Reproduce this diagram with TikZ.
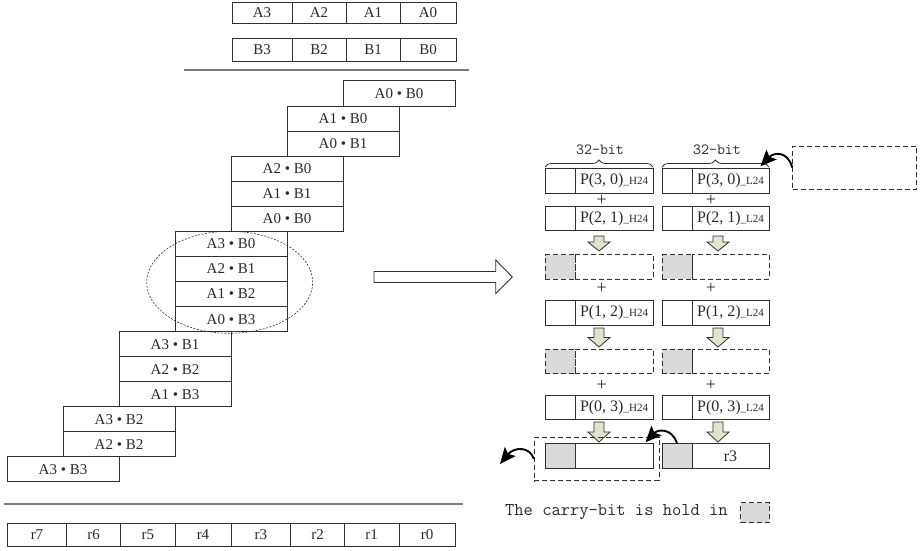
\documentclass[tikz,border=0pt]{standalone}
\usepackage{fontspec}
\setmainfont{Liberation Serif}
\usetikzlibrary{decorations.pathreplacing,arrows.meta}
\definecolor{lineC}{HTML}{303030}
\definecolor{sepC}{HTML}{7A7A7A}
\definecolor{carryC}{HTML}{D9D9D9}
\definecolor{arrC}{HTML}{E0E4CE}
\definecolor{txtC}{HTML}{2A2A2A}
\newcommand\lbl{\fontsize{15}{15}\selectfont}
\newcommand\plbl{\fontsize{16}{16}\selectfont}
\newcommand\subtag[1]{{\fontsize{11}{11}\selectfont\_#1}}
\newcommand\DownBlk[4]{%
  \draw[blockarr] ({#1-5},#2) -- ({#1+5},#2) -- ({#1+5},{#2+#3}) -- ({#1+11},{#2+#3}) -- (#1,{#2+#3+#4}) -- ({#1-11},{#2+#3}) -- ({#1-5},{#2+#3}) -- cycle;}
\begin{document}
\begin{tikzpicture}[x=1pt,y=-1pt,
  box/.style={draw=lineC,line width=1pt,inner sep=0pt,text=txtC,font=\lbl},
  prod/.style={box,minimum width=112pt,minimum height=25.06pt},
  rowA/.style={box,minimum height=20.6pt},
  rowB/.style={box,minimum height=23.4pt},
  rowR/.style={box,minimum height=22.7pt},
  cs/.style={box,minimum width=30pt,minimum height=24.5pt},
  cb/.style={box,minimum width=78pt,minimum height=24.5pt,font=\plbl},
  cbr/.style={box,minimum width=77pt,minimum height=24.5pt,font=\plbl},
  dsh/.style={dash pattern=on 5pt off 3pt},
  carry/.style={fill=carryC},
  sep/.style={draw=sepC,line width=1.6pt},
  blockarr/.style={draw=lineC,line width=0.8pt,fill=arrC,line join=miter},
  curv/.style={draw=black,line width=1.9pt,-{Stealth[length=16pt,width=14pt,inset=3pt]}},
  plus/.style={inner sep=0pt,text=txtC,font=\fontsize{18}{18}\selectfont},
  bitlbl/.style={inner sep=0pt,text=txtC,font=\ttfamily\fontsize{15.5}{15.5}\selectfont},
  brc/.style={draw=lineC,line width=0.8pt,decorate,decoration={brace,amplitude=7pt}}
]
\useasboundingbox (0,0) rectangle (921,550);

% operands
\node[rowA,minimum width=60pt] (a3) at (262,13) {A3};
\node[rowA,minimum width=54pt] (a2) at (319,13) {A2};
\node[rowA,minimum width=54pt] (a1) at (373,13) {A1};
\node[rowA,minimum width=56pt] (a0) at (428,13) {A0};
\node[rowB,minimum width=60pt] (b3) at (262,50) {B3};
\node[rowB,minimum width=54pt] (b2) at (319,50) {B2};
\node[rowB,minimum width=54pt] (b1) at (373,50) {B1};
\node[rowB,minimum width=56pt] (b0) at (428,50) {B0};
\coordinate (sepTopL) at (184,70);
\coordinate (sepTopR) at (469,70);
\draw[sep] (sepTopL) -- (sepTopR);

% partial products
\node[prod] (s0) at (399,93.5) {A0 • B0};
\node[prod] (s1) at (343,118.6) {A1 • B0};
\node[prod] (s2) at (343,143.7) {A0 • B1};
\node[prod] (s3) at (287,168.7) {A2 • B0};
\node[prod] (s4) at (287,193.8) {A1 • B1};
\node[prod] (s5) at (287,218.8) {A0 • B0};
\node[prod] (s6) at (231,243.9) {A3 • B0};
\node[prod] (s7) at (231,269.0) {A2 • B1};
\node[prod] (s8) at (231,294.0) {A1 • B2};
\node[prod] (s9) at (231,319.1) {A0 • B3};
\node[prod] (s10) at (175,344.1) {A3 • B1};
\node[prod] (s11) at (175,369.2) {A2 • B2};
\node[prod] (s12) at (175,394.2) {A1 • B3};
\node[prod] (s13) at (119,419.3) {A3 • B2};
\node[prod] (s14) at (119,444.4) {A2 • B2};
\node[prod] (s15) at (63,469.4) {A3 • B3};

\coordinate (ellc) at (229.7,282.3);
\draw[lineC,line width=0.6pt,dash pattern=on 2pt off 1.5pt] (ellc) ellipse [x radius=83pt,y radius=51pt];

\coordinate (sepBotL) at (4,504);
\coordinate (sepBotR) at (463,504);
\draw[sep] (sepBotL) -- (sepBotR);

% result
\node[rowR,minimum width=59.4pt] (rr7) at (37,534.7) {r7};
\node[rowR,minimum width=54pt] (rr6) at (93.7,534.7) {r6};
\node[rowR,minimum width=54.3pt] (rr5) at (147.85,534.7) {r5};
\node[rowR,minimum width=56pt] (rr4) at (203,534.7) {r4};
\node[rowR,minimum width=59.7pt] (rr3) at (260.85,534.7) {r3};
\node[rowR,minimum width=53.6pt] (rr2) at (317.5,534.7) {r2};
\node[rowR,minimum width=54.7pt] (rr1) at (371.65,534.7) {r1};
\node[rowR,minimum width=56pt] (rr0) at (427,534.7) {r0};

% big hollow arrow
\draw[lineC,line width=0.9pt,fill=white,line join=miter] (374,271.5) -- (495.7,271.5) -- (495.7,260) -- (512.3,277) -- (495.7,293.5) -- (495.7,282.5) -- (374,282.5) -- cycle;

% braces
\draw[brc] (545,167) -- (653,167);
\draw[brc] (662,167) -- (769,167);
\node[bitlbl] (bitL) at (600,150) {32-bit};
\node[bitlbl] (bitR) at (717,150) {32-bit};

% row 1
\node[cs] (l1s) at (560,181) {};
\node[cb] (l1b) at (614,181) {P(3, 0)\subtag{H24}};
\node[cs] (q1s) at (677,181) {};
\node[cbr] (q1b) at (730.5,181) {P(3, 0)\subtag{L24}};
\node[plus] (pl1) at (601.7,200) {+};
\node[plus] (pq1) at (711,200) {+};
% row 2
\node[cs] (l2s) at (560,218.5) {};
\node[cb] (l2b) at (614,218.5) {P(2, 1)\subtag{H24}};
\node[cs] (q2s) at (677,218.5) {};
\node[cbr] (q2b) at (730.5,218.5) {P(2, 1)\subtag{L24}};
\DownBlk{599}{236}{6}{9}
\DownBlk{718}{236}{6}{9}
% row 3
\node[cs,dsh,carry] (l3s) at (560,267) {};
\node[cb,dsh] (l3b) at (614,267) {};
\node[cs,dsh,carry] (q3s) at (677,267) {};
\node[cbr,dsh] (q3b) at (730.5,267) {};
\node[plus] (pl2) at (601.7,288) {+};
\node[plus] (pq2) at (711,288) {+};
% row 4
\node[cs] (l4s) at (560,313) {};
\node[cb] (l4b) at (614,313) {P(1, 2)\subtag{H24}};
\node[cs] (q4s) at (677,313) {};
\node[cbr] (q4b) at (730.5,313) {P(1, 2)\subtag{L24}};
\DownBlk{599}{328}{9.5}{9.5}
\DownBlk{718}{328}{9.5}{9.5}
% row 5
\node[cs,dsh,carry] (l5s) at (560,361.5) {};
\node[cb,dsh] (l5b) at (614,361.5) {};
\node[cs,dsh,carry] (q5s) at (677,361.5) {};
\node[cbr,dsh] (q5b) at (730.5,361.5) {};
\node[plus] (pl3) at (601.7,385) {+};
\node[plus] (pq3) at (711,385) {+};
% row 6
\node[cs] (l6s) at (560,407.5) {};
\node[cb] (l6b) at (614,407.5) {P(0, 3)\subtag{H24}};
\node[cs] (q6s) at (677,407.5) {};
\node[cbr] (q6b) at (730.5,407.5) {P(0, 3)\subtag{L24}};
\DownBlk{599}{422}{10}{10}
\DownBlk{718}{422}{10}{10}
% row 7
\node[cs,carry] (l7s) at (560,456) {};
\node[cb] (l7b) at (614,456) {};
\node[cs,carry] (q7s) at (677,456) {};
\node[cbr] (q7b) at (730.5,456) {r3};

% holding boxes
\node[draw=lineC,line width=1pt,dsh,inner sep=0pt,minimum width=124.7pt,minimum height=43.4pt] (hold) at (596.65,459) {};
\node[draw=lineC,line width=1pt,dsh,inner sep=0pt,minimum width=124pt,minimum height=43pt] (ext) at (854.7,167.5) {};

% curved carry arrows
\coordinate (outL) at (500,464);
\draw[curv] (ext.west) .. controls (788,151) and (774,152) .. ([xshift=-9pt,yshift=2pt]q1b.north east);
\draw[curv] (q7s.north) .. controls (672,428) and (658,429) .. ([xshift=-8pt,yshift=1pt]l7b.north east);
\draw[curv] (hold.west) .. controls (530,446) and (514,447) .. (outL);

% legend
\node[anchor=west,inner sep=0pt,text=txtC,font=\ttfamily\fontsize{18}{18}\selectfont] (legend) at (505,512) {The carry-bit is hold in};
\node[draw=lineC,line width=1pt,dsh,fill=carryC,inner sep=0pt,minimum width=28.6pt,minimum height=20pt] (legbox) at (755,512.7) {};
\end{tikzpicture}
\end{document}
